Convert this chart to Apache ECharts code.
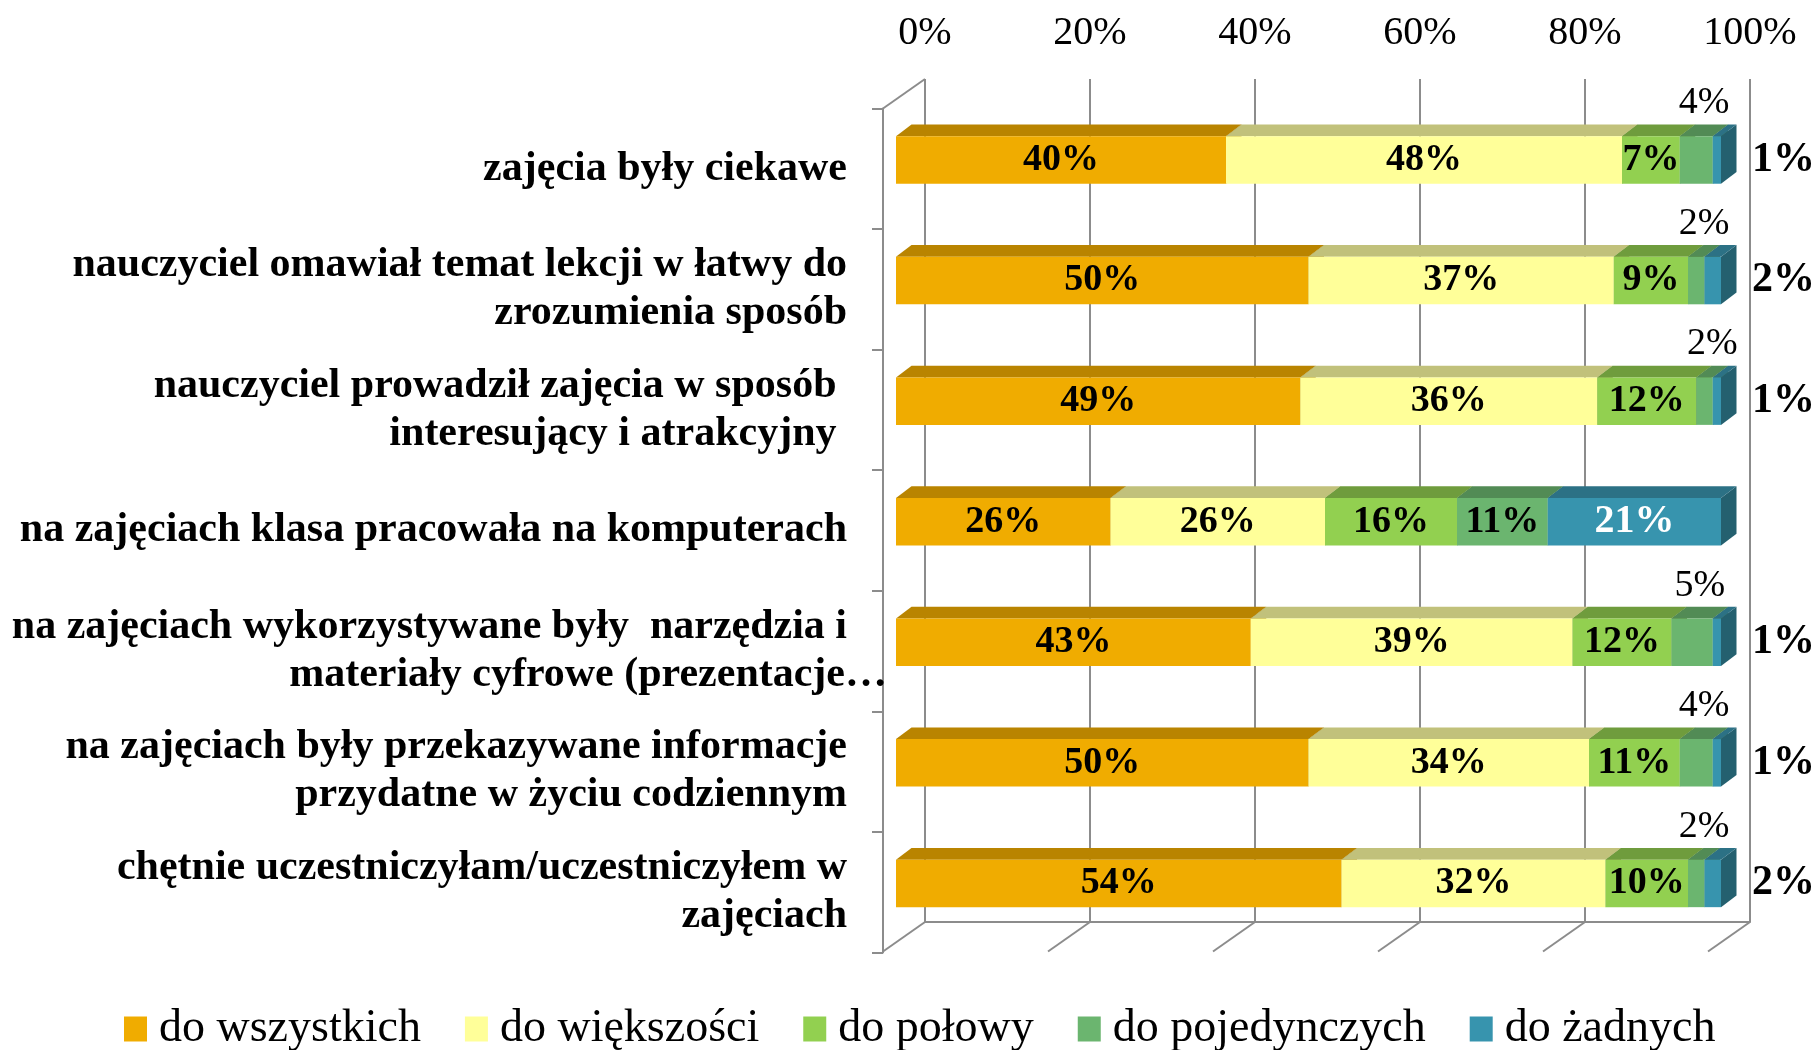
<!DOCTYPE html>
<html>
<head>
<meta charset="utf-8">
<script src="https://cdn.jsdelivr.net/npm/echarts/dist/echarts.min.js"></script>
<style>
  html, body { margin: 0; padding: 0; background: #ffffff; }
  #chart { width: 1819px; height: 1050px; }
</style>
</head>
<body>
<div id="chart"></div>
<script>
// Survey answers: share of lessons for which each statement held true
const categories = [
  'zajęcia były ciekawe',
  'nauczyciel omawiał temat lekcji w łatwy do\nzrozumienia sposób',
  'nauczyciel prowadził zajęcia w sposób \ninteresujący i atrakcyjny ',
  'na zajęciach klasa pracowała na komputerach',
  'na zajęciach wykorzystywane były  narzędzia i\nmateriały cyfrowe (prezentacje…',
  'na zajęciach były przekazywane informacje\nprzydatne w życiu codziennym',
  'chętnie uczestniczyłam/uczestniczyłem w\nzajęciach'
];
const seriesNames = ['do wszystkich', 'do większości', 'do połowy', 'do pojedynczych', 'do żadnych'];
const doWszystkich   = [40, 50, 49, 26, 43, 50, 54];
const doWiekszosci   = [48, 37, 36, 26, 39, 34, 32];
const doPolowy       = [7, 9, 12, 16, 12, 11, 10];
const doPojedynczych = [4, 2, 2, 11, 5, 4, 2];
const doZadnych      = [1, 2, 1, 21, 1, 1, 2];
const valueTicks = [0, 20, 40, 60, 80, 100];

const seriesValues = [doWszystkich, doWiekszosci, doPolowy, doPojedynczych, doZadnych];

// Face colours of the 3D bars: front, top, right side
const frontColors = ['#F0AC00', '#FFFF99', '#92D050', '#6BB56F', '#3794AE'];
const topColors   = ['#B98400', '#C1C17B', '#6F9C3D', '#528B55', '#2C7185'];
const sideColors  = ['#9A6E00', '#A3A366', '#5C8233', '#437347', '#24606F'];

const FONT = "'Liberation Serif', 'Times New Roman', serif";
const GRID_COLOR = '#8C8C8C';
const WALL_DEPTH = [-42, 29.5];   // offset from the back wall to the front edge of the floor
const BAR_DEPTH = [15.5, -11.7];  // offset from a bar's front face to its back face
const BAR_RATIO = 0.394;          // bar thickness as a share of a category band

// cumulative stacking: [start, end, categoryIndex, value]
const stacked = seriesValues.map(() => []);
categories.forEach((c, ci) => {
  let acc = 0;
  seriesValues.forEach((vals, si) => {
    stacked[si].push([acc, acc + vals[ci], ci, vals[ci]]);
    acc += vals[ci];
  });
});

function labelFor(si, v, x0, x1, yT, yB) {
  const cy = (yT + yB) / 2;
  const base = { text: v + '%', fill: '#000', font: 'bold 38px ' + FONT, align: 'center', verticalAlign: 'middle' };
  if (si === 3 && v < 10) {
    return { type: 'text', z2: 1000, style: Object.assign(base, {
      x: (x0 + x1) / 2 + BAR_DEPTH[0] / 2, y: yT - 33, font: '38px ' + FONT }) };
  }
  if (si === 4 && v < 10) {
    return { type: 'text', z2: 1000, style: Object.assign(base, {
      x: x1 + 31, y: cy, align: 'left', font: 'bold 42px ' + FONT }) };
  }
  if (si === 4) {
    return { type: 'text', z2: 1000, style: Object.assign(base, {
      x: (x0 + x1) / 2, y: cy, fill: '#ffffff', font: 'bold 40px ' + FONT }) };
  }
  return { type: 'text', z2: 1000, style: Object.assign(base, { x: (x0 + x1) / 2, y: cy }) };
}

function makeBarRenderer(si) {
  return function (params, api) {
    const start = api.value(0), end = api.value(1), cat = api.value(2), v = api.value(3);
    const p0 = api.coord([start, cat]);
    const p1 = api.coord([end, cat]);
    const h = api.size([0, 1])[1] * BAR_RATIO;
    const x0 = p0[0], x1 = p1[0];
    const yT = p0[1] - h / 2, yB = p0[1] + h / 2;
    const dx = BAR_DEPTH[0], dy = BAR_DEPTH[1];
    const zBase = si * 10;
    return {
      type: 'group',
      children: [
        { type: 'polygon', z2: zBase + 1,
          shape: { points: [[x1, yT], [x1 + dx, yT + dy], [x1 + dx, yB + dy], [x1, yB]] },
          style: { fill: sideColors[si] } },
        { type: 'polygon', z2: zBase + 2,
          shape: { points: [[x0, yT], [x0 + dx, yT + dy], [x1 + dx, yT + dy], [x1, yT]] },
          style: { fill: topColors[si] } },
        { type: 'rect', z2: zBase + 3,
          shape: { x: x0, y: yT, width: x1 - x0, height: h },
          style: { fill: frontColors[si] } },
        labelFor(si, v, x0, x1, yT, yB)
      ]
    };
  };
}

const chart = echarts.init(document.getElementById('chart'), null, { renderer: 'canvas' });

const barSeries = seriesNames.map((name, si) => ({
  name: name,
  type: 'custom',
  xAxisIndex: 0,
  yAxisIndex: 0,
  silent: true,
  itemStyle: { color: frontColors[si] },
  encode: { x: [0, 1], y: 2 },
  data: stacked[si],
  renderItem: makeBarRenderer(si)
}));

// floor edges and the top edge of the side wall
const wallSeries = {
  type: 'custom',
  xAxisIndex: 1,
  yAxisIndex: 1,
  silent: true,
  encode: { x: 0, y: 1 },
  data: valueTicks.map(v => [v, 0]),
  renderItem: function (params, api) {
    const v = api.value(0);
    const b = api.coord([v, 0]);
    const children = [{
      type: 'line',
      shape: { x1: b[0], y1: b[1], x2: b[0] + WALL_DEPTH[0], y2: b[1] + WALL_DEPTH[1] },
      style: { stroke: GRID_COLOR, lineWidth: 2 }
    }];
    if (v === valueTicks[0]) {
      const t = api.coord([v, 1]);
      children.push({
        type: 'line',
        shape: { x1: t[0], y1: t[1], x2: t[0] + WALL_DEPTH[0], y2: t[1] + WALL_DEPTH[1] },
        style: { stroke: GRID_COLOR, lineWidth: 2 }
      });
    }
    return { type: 'group', children: children };
  }
};

const option = {
  backgroundColor: '#ffffff',
  animation: false,
  textStyle: { fontFamily: FONT },
  grid: [
    { left: 896, top: 99.7, width: 825, height: 844 },   // bar front faces
    { left: 925, top: 79, width: 825, height: 843 },     // back wall
    { left: 883, top: 108.5, width: 825, height: 844 }   // front edge of the side wall
  ],
  xAxis: [
    { gridIndex: 0, type: 'value', min: 0, max: 100, show: false },
    { gridIndex: 1, type: 'value', min: 0, max: 100, interval: 20, position: 'top',
      axisLine: { show: true, lineStyle: { color: GRID_COLOR, width: 2 } },
      axisTick: { show: true, length: 12, lineStyle: { color: GRID_COLOR, width: 2 } },
      axisLabel: { formatter: '{value}%', fontFamily: FONT, fontSize: 40, color: '#000', margin: 26 },
      splitLine: { show: true, lineStyle: { color: GRID_COLOR, width: 2 } } },
    { gridIndex: 2, type: 'value', min: 0, max: 100, show: false }
  ],
  yAxis: [
    { gridIndex: 0, type: 'category', data: categories, inverse: true, show: false },
    { gridIndex: 1, type: 'value', min: 0, max: 1, show: false },
    { gridIndex: 2, type: 'category', data: categories, inverse: true,
      axisLine: { show: true, lineStyle: { color: GRID_COLOR, width: 2 } },
      axisTick: { show: true, length: 11, lineStyle: { color: GRID_COLOR, width: 2 } },
      axisLabel: {
        interval: 0, margin: -4, color: '#000',
        formatter: function (value) {
          return value.split('\n').map(line =>
            line.endsWith('…') ? '{over|' + line + '}' : '{line|' + line + '}'
          ).join('\n');
        },
        rich: {
          line: { fontFamily: FONT, fontSize: 42, fontWeight: 'bold', lineHeight: 48, color: '#000', padding: [0, 40, 0, 0] },
          over: { fontFamily: FONT, fontSize: 42, fontWeight: 'bold', lineHeight: 48, color: '#000' }
        }
      } }
  ],
  legend: {
    data: seriesNames,
    left: 119,
    top: 1001,
    icon: 'rect',
    itemWidth: 23,
    itemHeight: 25,
    itemGap: 44,
    selectedMode: false,
    textStyle: { fontFamily: FONT, fontSize: 46, color: '#000', padding: [0, 0, 0, 7] }
  },
  series: [wallSeries].concat(barSeries)
};

chart.setOption(option);
</script>
</body>
</html>
